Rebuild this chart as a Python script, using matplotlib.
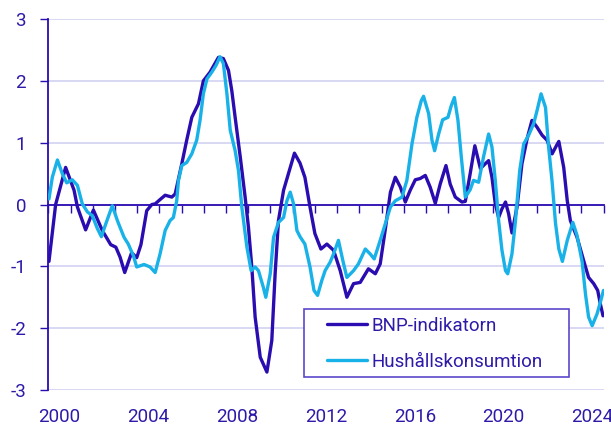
import numpy as np
import matplotlib.pyplot as plt
from matplotlib.patches import Rectangle

plt.rcParams['font.family'] = ['Roboto', 'DejaVu Sans']
plt.rcParams['axes.unicode_minus'] = False

# BNP-indikatorn (decimal year, value)
bnp_t = [2000.03, 2000.33, 2000.78, 2001.16, 2001.31, 2001.68, 2002.03, 2002.43, 2002.81, 2003.04,
         2003.23, 2003.44, 2003.75, 2003.98, 2004.17, 2004.43, 2004.66, 2004.81, 2005.03, 2005.26,
         2005.56, 2005.71, 2006.01, 2006.23, 2006.46, 2006.76, 2006.98, 2007.28, 2007.66, 2007.88,
         2008.11, 2008.26, 2008.41, 2008.64, 2008.86, 2009.01, 2009.16, 2009.31, 2009.54, 2009.84,
         2010.06, 2010.21, 2010.36, 2010.59, 2010.81, 2011.08, 2011.33, 2011.55, 2011.78, 2012.00,
         2012.27, 2012.54, 2012.84, 2013.14, 2013.44, 2013.74, 2014.04, 2014.41, 2014.72, 2014.94,
         2015.17, 2015.40, 2015.62, 2015.85, 2016.07, 2016.29, 2016.52, 2016.74, 2016.97, 2017.19,
         2017.42, 2017.64, 2017.90, 2018.09, 2018.32, 2018.62, 2018.77, 2018.99, 2019.20, 2019.45,
         2019.67, 2019.82, 2019.97, 2020.12, 2020.27, 2020.42, 2020.58, 2020.72, 2020.87, 2021.10,
         2021.32, 2021.55, 2021.77, 2022.00, 2022.23, 2022.45, 2022.68, 2022.87, 2022.98, 2023.20,
         2023.36, 2023.50, 2023.80, 2024.10, 2024.32, 2024.55, 2024.73, 2024.85, 2024.97]
bnp_v = [-0.92, 0.00, 0.60, 0.23, -0.04, -0.41, -0.09, -0.42, -0.65, -0.69,
         -0.85, -1.10, -0.78, -0.86, -0.65, -0.10, 0.00, 0.01, 0.08, 0.15,
         0.12, 0.17, 0.66, 1.04, 1.41, 1.63, 2.00, 2.14, 2.38, 2.36,
         2.17, 1.84, 1.41, 0.77, 0.12, -0.37, -1.01, -1.82, -2.47, -2.71,
         -2.20, -1.12, -0.26, 0.23, 0.50, 0.83, 0.67, 0.44, -0.04, -0.47,
         -0.72, -0.64, -0.74, -1.07, -1.50, -1.28, -1.26, -1.04, -1.12, -0.96,
         -0.40, 0.20, 0.44, 0.28, 0.04, 0.23, 0.40, 0.42, 0.47, 0.28,
         0.02, 0.33, 0.63, 0.33, 0.12, 0.04, 0.05, 0.50, 0.95, 0.58,
         0.66, 0.71, 0.44, 0.01, -0.21, -0.07, 0.04, -0.15, -0.46, -0.04,
         0.66, 1.06, 1.36, 1.25, 1.12, 1.04, 0.82, 0.95, 1.02, 0.60,
         0.06, -0.26, -0.53, -0.91, -1.18, -1.28, -1.39, -1.61, -1.80]

# Hushållskonsumtion (decimal year, value)
hush_t = [2000.03, 2000.18, 2000.41, 2000.63, 2000.83, 2001.08, 2001.31, 2001.53, 2001.76, 2001.98,
          2002.21, 2002.39, 2002.59, 2002.88, 2003.11, 2003.23, 2003.41, 2003.60, 2003.83, 2003.98,
          2004.31, 2004.58, 2004.81, 2005.03, 2005.26, 2005.48, 2005.63, 2005.78, 2005.86, 2006.01,
          2006.23, 2006.46, 2006.68, 2006.83, 2006.98, 2007.14, 2007.36, 2007.55, 2007.73, 2007.88,
          2008.04, 2008.19, 2008.41, 2008.56, 2008.71, 2008.94, 2009.13, 2009.31, 2009.46, 2009.68,
          2009.79, 2009.99, 2010.14, 2010.36, 2010.59, 2010.74, 2010.89, 2011.04, 2011.19, 2011.33,
          2011.55, 2011.78, 2011.96, 2012.12, 2012.31, 2012.46, 2012.69, 2012.84, 2013.06, 2013.26,
          2013.44, 2013.74, 2013.96, 2014.27, 2014.49, 2014.67, 2014.94, 2015.17, 2015.40, 2015.62,
          2015.92, 2016.14, 2016.37, 2016.59, 2016.79, 2016.89, 2017.12, 2017.27, 2017.39, 2017.57,
          2017.75, 2017.99, 2018.14, 2018.28, 2018.44, 2018.59, 2018.77, 2018.99, 2019.14, 2019.37,
          2019.59, 2019.82, 2019.97, 2020.12, 2020.27, 2020.42, 2020.58, 2020.68, 2020.87, 2021.03,
          2021.22, 2021.40, 2021.62, 2021.85, 2022.00, 2022.18, 2022.38, 2022.52, 2022.68, 2022.83,
          2022.98, 2023.14, 2023.36, 2023.61, 2023.80, 2024.03, 2024.18, 2024.32, 2024.48, 2024.70,
          2024.85, 2024.99]
hush_v = [0.09, 0.44, 0.72, 0.50, 0.35, 0.40, 0.31, 0.01, -0.12, -0.18,
          -0.39, -0.52, -0.31, -0.02, -0.26, -0.37, -0.53, -0.64, -0.83, -1.01,
          -0.97, -1.01, -1.10, -0.80, -0.42, -0.26, -0.21, 0.06, 0.39, 0.63,
          0.68, 0.82, 1.04, 1.36, 1.79, 2.03, 2.14, 2.25, 2.39, 2.28,
          1.79, 1.20, 0.87, 0.55, -0.04, -0.69, -1.07, -1.01, -1.07, -1.34,
          -1.50, -1.12, -0.53, -0.29, -0.21, 0.06, 0.20, 0.01, -0.42, -0.52,
          -0.64, -1.01, -1.39, -1.47, -1.23, -1.07, -0.93, -0.80, -0.58, -0.91,
          -1.18, -1.07, -0.96, -0.72, -0.80, -0.88, -0.58, -0.31, -0.04, 0.06,
          0.12, 0.39, 0.98, 1.41, 1.68, 1.75, 1.47, 1.04, 0.87, 1.14,
          1.37, 1.41, 1.60, 1.73, 1.36, 0.77, 0.12, 0.24, 0.39, 0.36,
          0.77, 1.14, 0.93, 0.39, -0.26, -0.74, -1.07, -1.12, -0.80, -0.26,
          0.55, 0.98, 1.12, 1.31, 1.52, 1.79, 1.57, 0.93, 0.36, -0.30,
          -0.72, -0.92, -0.58, -0.29, -0.50, -0.93, -1.45, -1.82, -1.96, -1.77,
          -1.58, -1.39]

label_years = [2000, 2004, 2008, 2012, 2016, 2020, 2024]
series_names = ['BNP-indikatorn', 'Hushållskonsumtion']

DARK = '#2a0cb0'
LIGHT = '#19b2e8'
TXT = '#2d1aa8'
GRID = '#d6d6f3'
FS = 13.5

W, H = 611, 425
fig = plt.figure(figsize=(W / 100, H / 100), dpi=100)
ax = fig.add_axes([48.3 / W, 1 - 390 / H, (603.7 - 48.3) / W, (390 - 19) / H])

ax.plot(bnp_t, bnp_v, color=DARK, lw=2.4, solid_joinstyle='round', solid_capstyle='round',
        label=series_names[0], zorder=3)
ax.plot(hush_t, hush_v, color=LIGHT, lw=2.4, solid_joinstyle='round', solid_capstyle='round',
        label=series_names[1], zorder=3)

ax.set_xlim(2000, 2025)
ax.set_ylim(-3, 3)
ax.set_yticks(range(-3, 4))
ax.yaxis.grid(True, color=GRID, lw=1.3)
ax.set_axisbelow(True)

for s in ['top', 'right']:
    ax.spines[s].set_visible(False)
ax.spines['bottom'].set_position(('data', 0))
for s in ['left', 'bottom']:
    ax.spines[s].set_color(DARK)
    ax.spines[s].set_linewidth(1.3)
ax.spines['bottom'].set_zorder(2.5)

ax.set_xticks(range(2000, 2026))
ax.tick_params(axis='x', length=6, width=1, color=DARK, labelbottom=False)
ax.tick_params(axis='y', length=6, width=1, color=DARK, labelcolor=TXT, labelsize=FS, pad=10)

# year labels centred in each year, below the plot
sec = ax.secondary_xaxis(0.0)
sec.set_xticks([y + 0.5 for y in label_years], labels=[str(y) for y in label_years])
sec.tick_params(length=0, pad=13, labelsize=FS, labelcolor=TXT)
for s in sec.spines.values():
    s.set_visible(False)

# legend box
box = Rectangle((304 / W, 1 - 377 / H), (569 - 304) / W, (377 - 309) / H,
                transform=fig.transFigure, facecolor='white', edgecolor='#5a48cc',
                lw=1.2, zorder=4, clip_on=False)
ax.add_patch(box)
leg = ax.legend(loc='upper left', bbox_to_anchor=(327 / W, 1 - 317 / H), bbox_transform=fig.transFigure,
                frameon=False, fontsize=FS, handlelength=2.15, handletextpad=0.2,
                labelspacing=0.95, borderpad=0, borderaxespad=0)
for t in leg.get_texts():
    t.set_color(TXT)
leg.set_zorder(5)

fig.savefig('out.png', dpi=100)
